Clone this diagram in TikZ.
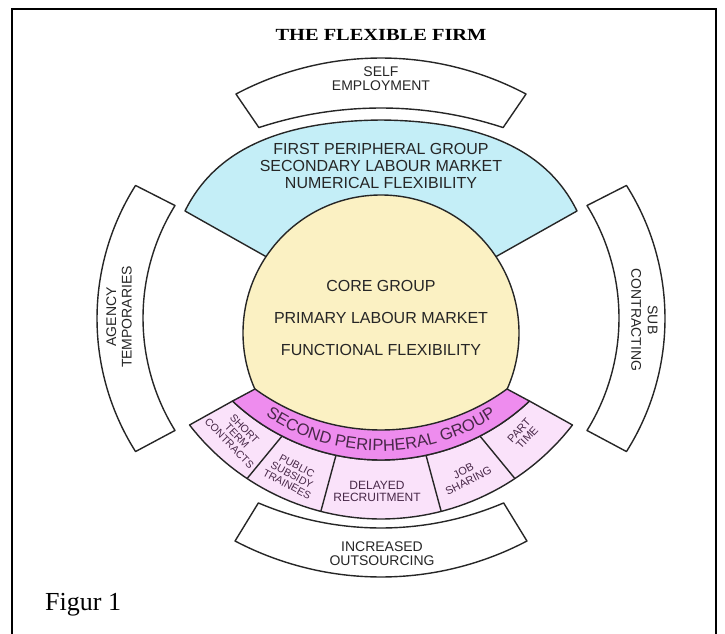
\documentclass[tikz,border=0pt]{standalone}
\usepackage{fontspec}
\setmainfont{Liberation Serif}
\setsansfont{Liberation Sans}
\usetikzlibrary{calc,decorations.text}
\definecolor{peribl}{RGB}{196,238,247}
\definecolor{coreyl}{RGB}{251,241,195}
\definecolor{bandmg}{RGB}{238,140,238}
\definecolor{subpk}{RGB}{250,226,250}
\definecolor{subtx}{RGB}{72,40,72}

\begin{document}
\begin{tikzpicture}[x=1pt, y=-1pt, samples=60,
    ring/.style={draw=black!85, line width=1.4pt, line join=round},
    lbl/.style={font=\sffamily\fontsize{16}{16.7}\selectfont, align=center, inner sep=0pt, text=black!85},
    ringlbl/.style={font=\sffamily\fontsize{14}{14}\selectfont, align=center, inner sep=0pt, text=black!85},
    sublbl/.style={font=\sffamily\fontsize{10.5}{10.5}\selectfont, align=center, inner sep=0pt, text=subtx}
]
\useasboundingbox (0,0) rectangle (725,634);
\coordinate (O) at (381,333);
\coordinate (Bo) at (381,243.5);
\coordinate (So) at (381,277);

% frame
\draw[line width=1.3pt] (12,640) -- (12,9) -- (716,9) -- (716,640);

% first peripheral group
\draw[ring, fill=peribl] (266,256.6) -- (185,211)
    .. controls (215,150) and (280,121) .. (381,120)
    .. controls (482,121) and (547,150) .. (577,211)
    -- (496,256.6) -- (O) -- cycle;
% core group
\draw[ring, fill=coreyl] (O) circle[radius=138];

% second peripheral group: small boxes, then band
\draw[ring, fill=subpk]
    plot[domain=133.3:46.7] ({381+216.5*cos(\x)},{243.5+216.5*sin(\x)})
    -- plot[domain=37.7:142.3] ({381+242*cos(\x)},{277+242*sin(\x)}) -- cycle;
\draw[ring, fill=bandmg]
    plot[domain=126.05:53.95] ({381+214.1*cos(\x)},{215.9+214.1*sin(\x)})
    -- plot[domain=46.7:133.3] ({381+216.5*cos(\x)},{243.5+216.5*sin(\x)}) -- cycle;
\draw[ring] ($(Bo)+(117.2:216.5)$) -- ($(So)+(123.6:242)$);
\draw[ring] ($(Bo)+(102:216.5)$) -- ($(So)+(104.4:242)$);
\draw[ring] ($(Bo)+(78:216.5)$) -- ($(So)+(75.6:242)$);
\draw[ring] ($(Bo)+(62.8:216.5)$) -- ($(So)+(56.4:242)$);

% outer ring
\draw[ring, fill=white]
    plot[domain=242.1:297.9] ({381+310*cos(\x)},{368+310*sin(\x)})
    -- plot[domain=288.2:251.8] ({381+391*cos(\x)},{499+391*sin(\x)}) -- cycle;
\draw[ring, fill=white]
    plot[domain=211.75:148.25] ({356.75+213.75*cos(\x)},{318+213.75*sin(\x)})
    -- plot[domain=147.7:212.3] ({346+249*cos(\x)},{318.5+249*sin(\x)}) -- cycle;
\draw[ring, fill=white]
    plot[domain=-31.75:31.75] ({405.25+213.75*cos(\x)},{318+213.75*sin(\x)})
    -- plot[domain=32.3:-32.3] ({416+249*cos(\x)},{318.5+249*sin(\x)}) -- cycle;
\draw[ring, fill=white]
    plot[domain=113.1:66.9] ({381+312.6*cos(\x)},{215.4+312.6*sin(\x)})
    -- plot[domain=62.3:117.7] ({381+314*cos(\x)},{263+314*sin(\x)}) -- cycle;

% labels
\node[font=\bfseries\fontsize{17}{17}\selectfont, xscale=1.2, inner sep=0pt] (title) at (381,35) {THE FLEXIBLE FIRM};
\node[ringlbl] (self) at (381,78.5) {SELF\\EMPLOYMENT};
\node[lbl] (first) at (381,166) {FIRST PERIPHERAL GROUP\\SECONDARY LABOUR MARKET\\NUMERICAL FLEXIBILITY};
\node[lbl, font=\sffamily\fontsize{16}{32}\selectfont] (core) at (381,317.5) {CORE GROUP\\PRIMARY LABOUR MARKET\\FUNCTIONAL FLEXIBILITY};
\node[ringlbl, rotate=90, font=\sffamily\fontsize{14}{15.5}\selectfont] (agency) at (119,317) {AGENCY\\TEMPORARIES};
\node[ringlbl, rotate=-90, font=\sffamily\fontsize{14}{16.5}\selectfont] (subc) at (644.5,320) {SUB\\CONTRACTING};
\node[ringlbl] (outs) at (382,554) {INCREASED\\OUTSOURCING};
\path[decorate, decoration={text along path, text align=center, text color=subtx,
    text={|\sffamily\fontsize{16.5}{17}\selectfont|SECOND PERIPHERAL GROUP}}]
    plot[domain=130:50] ({381+207.5*cos(\x)},{243.5+207.5*sin(\x)});
\node[sublbl, rotate=-46] (short) at (237,436) {SHORT\\TERM\\CONTRACTS};
\node[sublbl, rotate=-28] (public) at (292,475) {PUBLIC\\SUBSIDY\\TRAINEES};
\node[sublbl, font=\sffamily\fontsize{12}{12}\selectfont] (delayed) at (377,491) {DELAYED\\RECRUITMENT};
\node[sublbl, font=\sffamily\fontsize{11}{11}\selectfont, rotate=27] (job) at (466,476) {JOB\\SHARING};
\node[sublbl, font=\sffamily\fontsize{11}{11}\selectfont, rotate=47] (part) at (523,434) {PART\\TIME};
\node[anchor=base west, font=\fontsize{26}{26}\selectfont, inner sep=0pt] (fig) at (45,610) {Figur 1};
\end{tikzpicture}
\end{document}
